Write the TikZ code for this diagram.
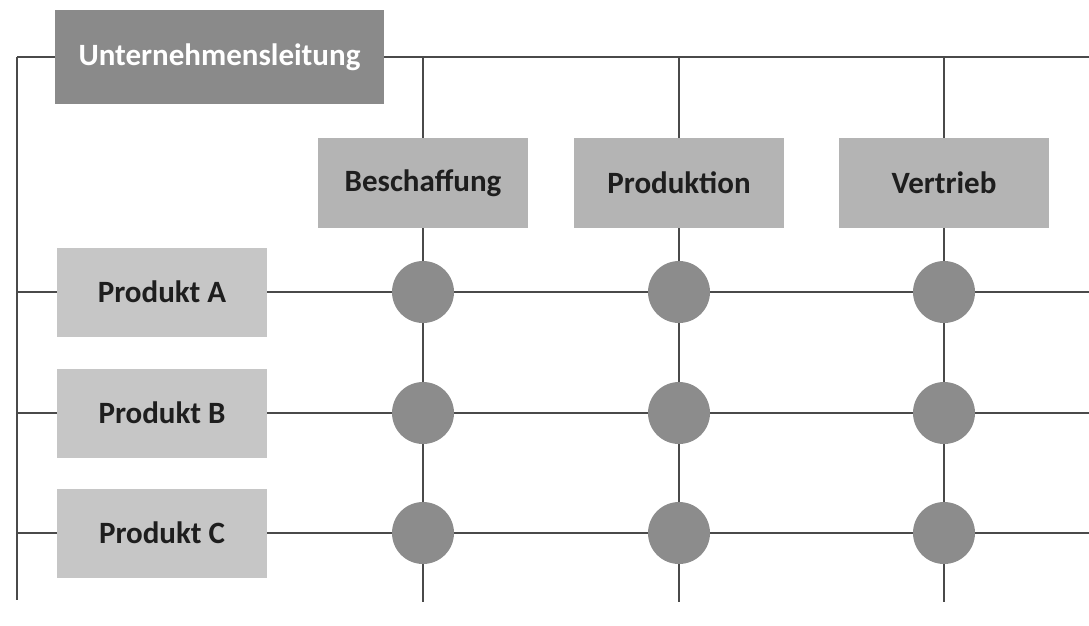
\documentclass[tikz,border=0pt]{standalone}
\usepackage{fontspec}
\setmainfont{Carlito}
\begin{document}
\begin{tikzpicture}[x=1pt,y=-1pt,
  line/.style={draw=linegray,line width=1.3pt},
  headbox/.style={fill=headgray,text=white,font=\bfseries\fontsize{31}{34}\selectfont,
    minimum width=329pt,minimum height=94pt,inner sep=0pt},
  funcbox/.style={fill=funcgray,text=textdark,font=\bfseries\fontsize{31}{34}\selectfont,
    minimum width=210pt,minimum height=90pt,inner sep=0pt},
  prodbox/.style={fill=prodgray,text=textdark,font=\bfseries\fontsize{31}{34}\selectfont,
    minimum width=210pt,minimum height=89pt,inner sep=0pt},
  knot/.style={circle,fill=knotgray,minimum size=62pt,inner sep=0pt}]
\definecolor{linegray}{HTML}{4A4A4A}
\definecolor{headgray}{HTML}{8A8A8A}
\definecolor{funcgray}{HTML}{B4B4B4}
\definecolor{prodgray}{HTML}{C6C6C6}
\definecolor{knotgray}{HTML}{8C8C8C}
\definecolor{textdark}{HTML}{1E1E1E}
\useasboundingbox (0,0) rectangle (1089,626);

% management and functional units
\node[headbox] (ul) at (219.5,57) {Unternehmensleitung};
\node[funcbox] (besch) at (423,183) {Beschaffung};
\node[funcbox] (prod) at (679,183) {Produktion};
\node[funcbox] (vert) at (944,183) {Vertrieb};

% product units
\node[prodbox] (pa) at (162,292) {Produkt A};
\node[prodbox] (pb) at (162,413) {Produkt B};
\node[prodbox] (pc) at (162,533) {Produkt C};

% matrix intersections
\foreach \c/\x in {1/423,2/679,3/944}{
  \node[knot] (k\c1) at (\x,292) {};
  \node[knot] (k\c2) at (\x,413) {};
  \node[knot] (k\c3) at (\x,533) {};
}

% free line ends
\coordinate (busTop) at (17,57);
\coordinate (busBot) at (17,600);
\coordinate (topEnd) at (1089,57);
\coordinate (c1top) at (423,57);
\coordinate (c2top) at (679,57);
\coordinate (c3top) at (944,57);
\coordinate (c1bot) at (423,602);
\coordinate (c2bot) at (679,602);
\coordinate (c3bot) at (944,602);
\coordinate (raL) at (17,292);
\coordinate (rbL) at (17,413);
\coordinate (rcL) at (17,533);
\coordinate (raR) at (1089,292);
\coordinate (rbR) at (1089,413);
\coordinate (rcR) at (1089,533);

% connectors
\draw[line] (busTop) -- (busBot);
\draw[line] (busTop) -- (ul);
\draw[line] (ul) -- (topEnd);

\draw[line] (c1top) -- (besch);
\draw[line] (c2top) -- (prod);
\draw[line] (c3top) -- (vert);
\draw[line] (besch) -- (k11) -- (k12) -- (k13) -- (c1bot);
\draw[line] (prod) -- (k21) -- (k22) -- (k23) -- (c2bot);
\draw[line] (vert) -- (k31) -- (k32) -- (k33) -- (c3bot);

\draw[line] (raL) -- (pa);
\draw[line] (rbL) -- (pb);
\draw[line] (rcL) -- (pc);
\draw[line] (pa) -- (k11) -- (k21) -- (k31) -- (raR);
\draw[line] (pb) -- (k12) -- (k22) -- (k32) -- (rbR);
\draw[line] (pc) -- (k13) -- (k23) -- (k33) -- (rcR);
\end{tikzpicture}
\end{document}
